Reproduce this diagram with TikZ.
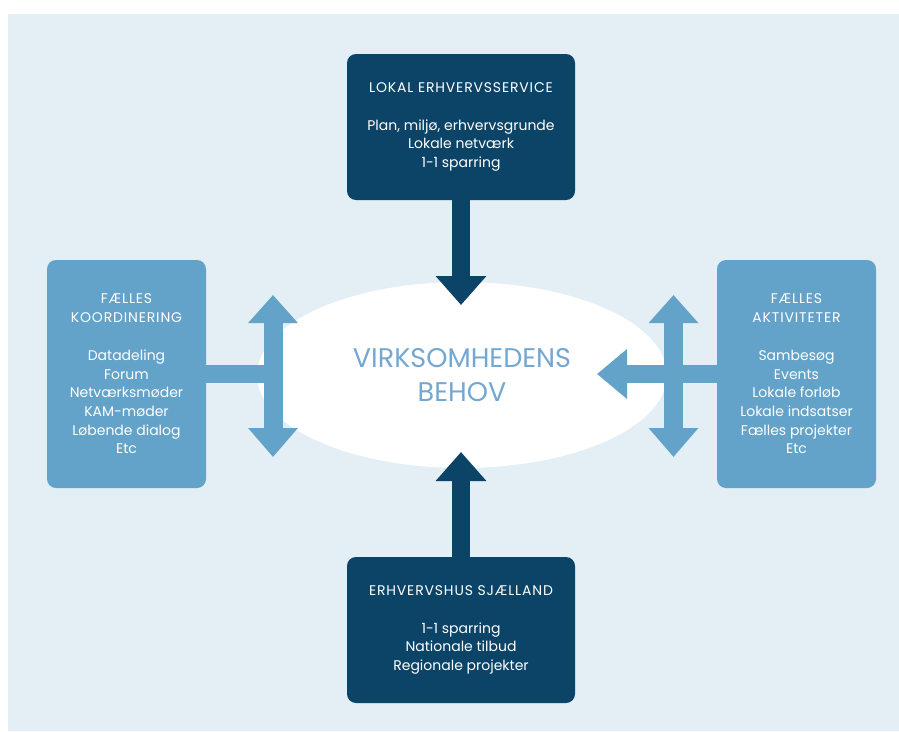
\documentclass[tikz,border=0pt]{standalone}
\usepackage{fontspec}
\setmainfont{Poppins}
\usetikzlibrary{arrows.meta,shapes.geometric}
\definecolor{navy}{HTML}{0C4468}
\definecolor{midblue}{HTML}{64A3C9}
\definecolor{paleblue}{HTML}{E4EEF5}
\definecolor{behovtext}{HTML}{74A8D1}
\newcommand{\boxtitle}[1]{{\addfontfeature{LetterSpace=6}#1}}

\begin{document}
\begin{tikzpicture}[x=1pt,y=-1pt,
  darkbox/.style={fill=navy,rounded corners=9pt,minimum width=228pt,minimum height=146pt,
    inner sep=0pt,text=white,align=center,font=\fontsize{14}{18.7}\selectfont},
  lightbox/.style={darkbox,fill=midblue,minimum width=159pt,minimum height=228pt},
  darkarrow/.style={navy,line width=18pt,-{Triangle[width=49pt,length=29pt]}},
  lightarrow/.style={midblue,line width=18pt,-{Triangle[width=48pt,length=30pt]}},
  twoway/.style={midblue,line width=19pt,{Triangle[width=48pt,length=28pt]}-{Triangle[width=48pt,length=29pt]}}]
\useasboundingbox (0,0) rectangle (899,731);
\fill[white] (0,0) rectangle (899,731);
\fill[paleblue] (8,14) rectangle (899,731);
\node[ellipse,fill=white,minimum width=410pt,minimum height=186pt,inner sep=0pt,
  text=behovtext,align=center,font=\fontsize{27}{34}\selectfont] (behov) at (462,375)
  {VIRKSOMHEDENS\\BEHOV};
\coordinate (toptip) at (461,305);
\coordinate (bottip) at (461,452);
\coordinate (lefttop) at (273,295);
\coordinate (leftmid) at (273,374);
\coordinate (leftbot) at (273,457);
\coordinate (righttop) at (673.5,295);
\coordinate (rightbot) at (673.5,457);
\coordinate (righttip) at (597,374);
\node[darkbox] (lokal) at (461,127)
  {\boxtitle{LOKAL ERHVERVSSERVICE}\\[19pt]Plan, miljø, erhvervsgrunde\\Lokale netværk\\1-1 sparring};
\node[darkbox] (erhvervshus) at (461,630)
  {\boxtitle{ERHVERVSHUS SJÆLLAND}\\[19pt]1-1 sparring\\Nationale tilbud\\Regionale projekter};
\node[lightbox] (koord) at (126.5,374)
  {\boxtitle{FÆLLES}\\\boxtitle{KOORDINERING}\\[19pt]Datadeling\\Forum\\Netværksmøder\\KAM-møder\\Løbende dialog\\Etc};
\node[lightbox] (aktiv) at (796.5,374)
  {\boxtitle{FÆLLES}\\\boxtitle{AKTIVITETER}\\[19pt]Sambesøg\\Events\\Lokale forløb\\Lokale indsatser\\Fælles projekter\\Etc};
\draw[darkarrow] (lokal.south) -- (toptip);
\draw[darkarrow] (erhvervshus.north) -- (bottip);
\draw[midblue,line width=18pt] (koord.east) -- (leftmid);
\draw[twoway] (lefttop) -- (leftbot);
\draw[twoway] (righttop) -- (rightbot);
\draw[lightarrow] (aktiv.west) -- (righttip);
\end{tikzpicture}
\end{document}
